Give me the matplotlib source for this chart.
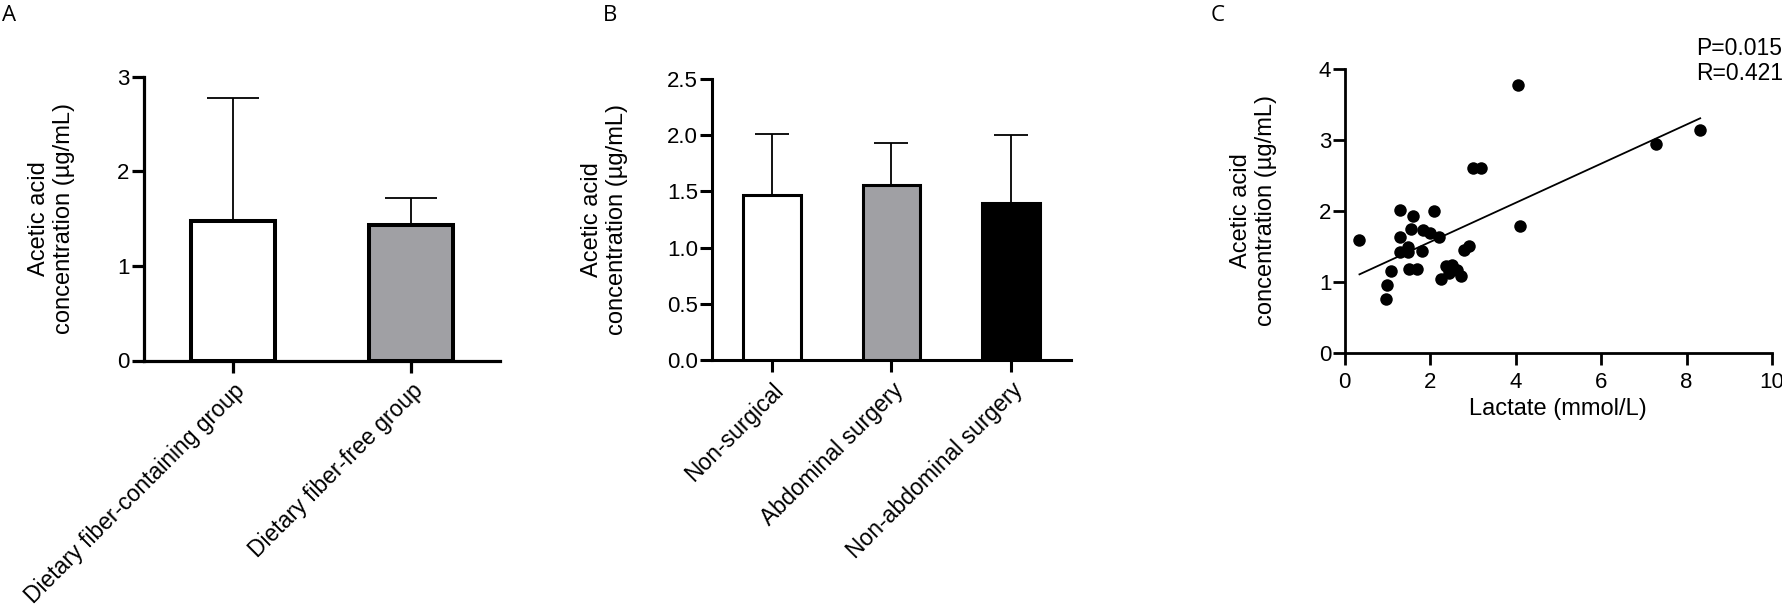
import numpy as np
import matplotlib
matplotlib.use("Agg")
import matplotlib.pyplot as plt

plt.rcParams['font.family'] = ['Liberation Sans', 'DejaVu Sans']

# ---------------- data ----------------
a_groups = ["Dietary fiber-containing group", "Dietary fiber-free group"]
a_means = [1.47, 1.43]
a_sd = [1.30, 0.29]
a_colors = ["white", "#a0a0a4"]

b_groups = ["Non-surgical", "Abdominal surgery", "Non-abdominal surgery"]
b_means = [1.47, 1.56, 1.40]
b_sd = [0.54, 0.37, 0.60]
b_colors = ["white", "#a0a0a4", "black"]

lactate = [0.35, 1.30, 1.61, 2.10, 1.30, 1.56, 1.83, 1.99, 2.22, 1.30,
           1.48, 1.48, 1.81, 1.52, 1.69, 1.09, 0.99, 0.97, 2.26, 2.38,
           2.52, 2.44, 2.63, 2.73, 2.80, 2.91, 3.00, 3.19, 4.07, 4.11,
           7.29, 8.32]
acetic = [1.59, 2.01, 1.93, 2.00, 1.63, 1.74, 1.73, 1.69, 1.63, 1.42,
          1.49, 1.42, 1.43, 1.19, 1.18, 1.16, 0.96, 0.76, 1.04, 1.22,
          1.24, 1.13, 1.17, 1.08, 1.45, 1.51, 2.60, 2.61, 3.78, 1.79,
          2.94, 3.14]
stats_text = "P=0.015\nR=0.421"

ylabel = "Acetic acid\nconcentration (µg/mL)"

W, H = 1783, 611
fig = plt.figure(figsize=(W / 100, H / 100), dpi=100)

def px_axes(l, r, t, b):
    return fig.add_axes([l / W, 1 - b / H, (r - l) / W, (b - t) / H])

axA = px_axes(144, 500, 76.7, 360.5)
axB = px_axes(712, 1071, 79, 360)
axC = px_axes(1344.5, 1772, 69, 353)

TICK_FS = 16
TEXT_FS = 17
XT_FS = 16.5

def style(ax, spine_w):
    for s in ["top", "right"]:
        ax.spines[s].set_visible(False)
    for s in ["left", "bottom"]:
        ax.spines[s].set_linewidth(spine_w)
    ax.tick_params(axis="both", direction="out", length=8.5, width=spine_w,
                   labelsize=TICK_FS, color="black")

# ---------------- panel A ----------------
xa = np.arange(len(a_groups))
axA.bar(xa, a_means, width=0.475, color=a_colors, edgecolor="black",
        linewidth=2.9, zorder=3)
axA.errorbar(xa, a_means, yerr=[np.zeros(len(a_sd)), a_sd], fmt="none",
             ecolor="black", elinewidth=1.3, capsize=18.7, capthick=1.3, zorder=2)
axA.set_xlim(-0.5, 1.5)
axA.set_ylim(0, 3)
axA.set_yticks([0, 1, 2, 3])
style(axA, 2.3)
axA.tick_params(axis="y", pad=2)
axA.set_xticks(xa)
axA.set_xticklabels(a_groups, rotation=45, ha="right", va="top",
                    rotation_mode="anchor", fontsize=XT_FS)
axA.tick_params(axis="x", pad=5)
axA.set_ylabel(ylabel, fontsize=TEXT_FS, labelpad=30)

# ---------------- panel B ----------------
xb = np.arange(len(b_groups))
axB.bar(xb, b_means, width=0.48, color=b_colors, edgecolor="black",
        linewidth=2.2, zorder=3)
axB.errorbar(xb, b_means, yerr=[np.zeros(len(b_sd)), b_sd], fmt="none",
             ecolor="black", elinewidth=1.3, capsize=11.9, capthick=1.3, zorder=2)
axB.set_xlim(-0.5, 2.5)
axB.set_ylim(0, 2.5)
axB.set_yticks([0, 0.5, 1.0, 1.5, 2.0, 2.5])
axB.set_yticklabels(["0.0", "0.5", "1.0", "1.5", "2.0", "2.5"])
style(axB, 2.2)
axB.tick_params(axis="y", pad=1.5)
axB.set_xticks(xb)
axB.set_xticklabels(b_groups, rotation=45, ha="right", va="top",
                    rotation_mode="anchor", fontsize=XT_FS)
axB.tick_params(axis="x", pad=5)
axB.set_ylabel(ylabel, fontsize=TEXT_FS, labelpad=28)

# ---------------- panel C ----------------
lac = np.array(lactate)
ace = np.array(acetic)
axC.scatter(lac, ace, s=81, color="black", zorder=3, linewidths=0)
k, b0 = np.polyfit(lac, ace, 1)
xl = np.array([lac.min(), lac.max()])
axC.plot(xl, k * xl + b0, color="black", linewidth=1.3, zorder=2)
axC.set_xlim(0, 10)
axC.set_ylim(0, 4)
axC.set_xticks([0, 2, 4, 6, 8, 10])
axC.set_yticks([0, 1, 2, 3, 4])
style(axC, 2.0)
axC.tick_params(axis="y", pad=1)
axC.tick_params(axis="x", pad=5)
axC.set_xlabel("Lactate (mmol/L)", fontsize=TEXT_FS, labelpad=4)
axC.set_ylabel(ylabel, fontsize=TEXT_FS, labelpad=30)

fig.text(1696 / W, 1 - 37 / H, stats_text, fontsize=16.5, ha="left",
         va="top", linespacing=1.1)

# panel letters
for lab, xp in [("A", 2), ("B", 603), ("C", 1211)]:
    fig.text(xp / W, 1 - 5 / H, lab, fontsize=16, va="top", ha="left",
             family=["Open Sans", "DejaVu Sans"])

fig.savefig("out.png", dpi=100)
